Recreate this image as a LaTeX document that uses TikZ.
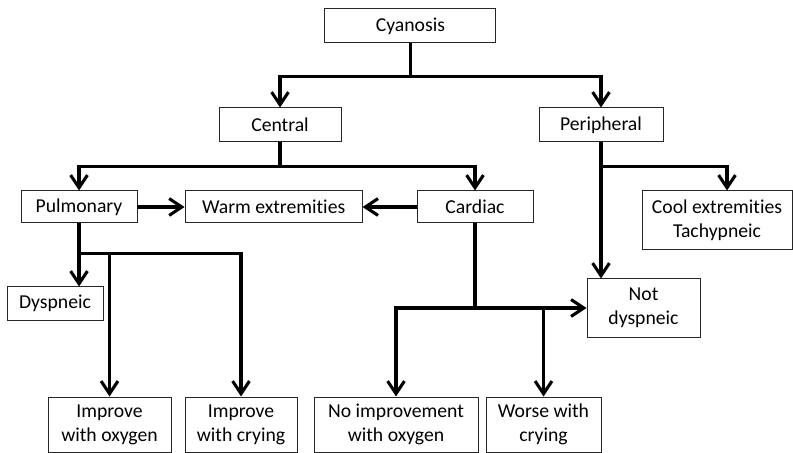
\documentclass[tikz,border=0pt]{standalone}
\usepackage{fontspec}
\setmainfont{Carlito}[Ligatures={NoCommon, NoRare}]
\usepackage{tikz}
\usetikzlibrary{arrows.meta, positioning}

\begin{document}
\begin{tikzpicture}[
    box/.style={rectangle, draw=black!85, line width=0.7pt, inner sep=1pt, align=center, minimum height=8mm, font=\fontsize{14}{17}\selectfont},
    tallbox/.style={box, minimum height=13.75mm},
    arrow/.style={-{Straight Barb[length=9pt, width=12pt]}, line width=2.2pt},
    link/.style={line width=2.2pt}
]
\useasboundingbox (0,0) rectangle (19.825,11.325);

% Top level
\node[box, minimum width=42.75mm, minimum height=8.5mm] (cyan) at (10.26, 10.675) {Cyanosis};
\node[box, minimum width=30.5mm, minimum height=8.5mm] (central) at (7.0, 8.2) {Central};
\node[box, minimum width=31mm, minimum height=8.5mm] (periph) at (15.025, 8.2) {Peripheral};

% Second level
\node[box, minimum width=29mm] (pulm) at (1.975, 6.15) {Pulmonary};
\node[box, minimum width=44.25mm] (warm) at (6.84, 6.15) {Warm extremities};
\node[box, minimum width=29mm] (cardiac) at (11.875, 6.15) {Cardiac};
\node[box, minimum width=37.5mm, minimum height=14.75mm] (cool) at (17.925, 5.8125) {Cool extremities\\Tachypneic};

% Third level
\node[box, minimum width=24mm, minimum height=8.25mm] (dysp) at (1.375, 3.7375) {Dyspneic};
\node[tallbox, minimum width=28.25mm, minimum height=14.5mm] (notdysp) at (16.0875, 3.625) {Not\\dyspneic};

% Bottom row
\node[tallbox, minimum width=30.75mm] (impox) at (2.7375, 0.7125) {Improve\\with oxygen};
\node[tallbox, minimum width=28mm] (impcry) at (6.025, 0.7125) {Improve\\with crying};
\node[tallbox, minimum width=41mm] (noimp) at (9.9, 0.7125) {No improvement\\with oxygen};
\node[tallbox, minimum width=28.75mm] (worse) at (13.5875, 0.7125) {Worse with\\crying};

% Cyanosis split
\draw[arrow] (cyan.south) -- ++(0,-0.825) -| (central.north);
\draw[arrow] (cyan.south) -- ++(0,-0.825) -| (periph.north);

% Central split
\draw[arrow] (central.south) -- ++(0,-0.6) -| (pulm.north);
\draw[arrow] (central.south) -- ++(0,-0.6) -| (cardiac.north);
\draw[arrow] (pulm.east) -- (warm.west);
\draw[arrow] (cardiac.west) -- (warm.east);

% Peripheral
\draw[arrow] (periph.south) -- (periph.south |- notdysp.north);
\draw[arrow] (periph.south) -- ++(0,-0.6) -| ([xshift=2.5mm]cool.north);

% Pulmonary branches
\draw[arrow] (pulm.south) -- ++(0,-0.75) coordinate (pj) -| (impcry.north);
\draw[arrow] (pulm.south) -- (pulm.south |- dysp.north);
\draw[arrow] (pj -| impox.north) -- (impox.north);

% Cardiac branches
\draw[arrow] (cardiac.south) |- (notdysp.west);
\draw[arrow] (cardiac.south |- notdysp.west) -| (noimp.north);
\draw[arrow] (cardiac.south |- notdysp.west) -| (worse.north);

\end{tikzpicture}
\end{document}
